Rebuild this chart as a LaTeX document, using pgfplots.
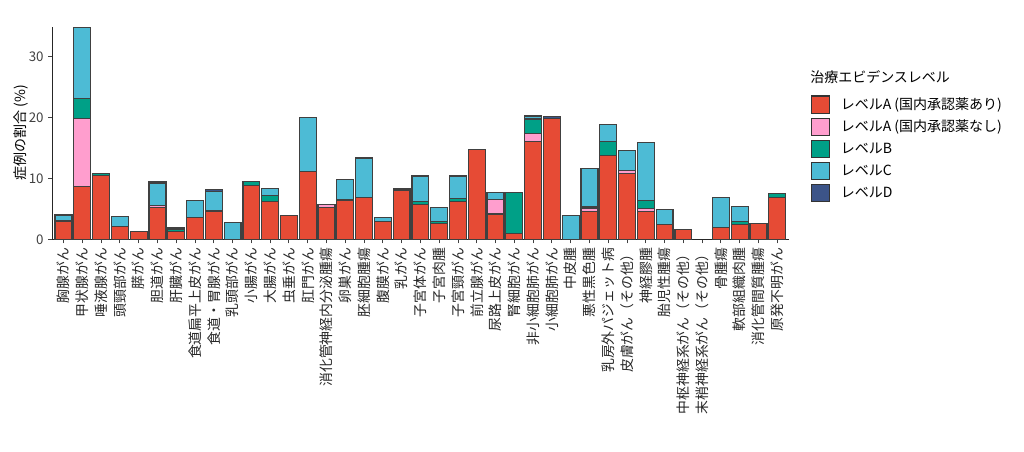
\documentclass[border=0pt]{standalone}
\usepackage{fontspec}
\setmainfont{Noto Sans CJK JP}
\usepackage{pgfplots}
\usepackage{pgfplotstable}
\pgfplotsset{compat=1.18}
\definecolor{cA}{HTML}{E64B35}
\definecolor{cP}{HTML}{FF9ECE}
\definecolor{cB}{HTML}{00A087}
\definecolor{cC}{HTML}{4DBBD5}
\definecolor{cD}{HTML}{3C5488}
\pgfplotstableread{
x A P B C D
1 3.0 0 0 1.0 0
2 8.65 11.15 3.3 11.6 0
3 10.45 0 0.35 0 0
4 2.1 0 0 1.6 0
5 1.35 0 0 0 0
6 5.2 0.4 0 3.5 0.3
7 1.35 0 0.35 0 0.15
8 3.6 0 0 2.75 0
9 4.65 0 0 3.2 0.3
10 0 0 0 2.8 0
11 8.8 0 0.75 0 0
12 6.2 0 1.05 1.1 0
13 3.85 0 0 0 0
14 11.1 0 0 8.9 0
15 5.25 0.45 0 0 0
16 6.35 0 0.2 3.3 0
17 6.9 0 0 6.45 0
18 2.95 0 0 0.65 0
19 8.0 0 0 0 0.25
20 5.7 0 0.55 4.15 0
21 2.6 0 0.35 2.25 0
22 6.25 0 0.45 3.7 0
23 14.7 0 0 0 0
24 4.15 2.35 0 1.25 0
25 1.0 0 6.7 0 0
26 16.1 1.25 2.4 0.4 0.15
27 19.85 0 0 0 0.25
28 0 0 0 3.88 0
29 4.55 0.6 0.3 6.15 0
30 13.8 0 2.3 2.8 0
31 10.85 0.4 0 3.3 0
32 4.55 0.55 1.25 9.5 0
33 2.5 0 0 2.4 0
34 1.55 0 0 0 0
35 0 0 0 0 0
36 2.0 0 0 4.85 0
37 2.45 0 0.5 2.5 0
38 2.65 0 0 0 0
39 6.9 0 0.65 0 0
}\datatable
\begin{document}
\begin{tikzpicture}
\path[use as bounding box] (-39.2pt,-158.8pt) rectangle (728.8pt,179.5pt);
\begin{axis}[
  at={(0pt,0pt)}, anchor=south west,
  scale only axis,
  width=552.2pt, height=159.5pt,
  ybar stacked, bar width=0.9,
  xmin=0.4, xmax=39.6, ymin=0, ymax=34.9,
  axis lines=left,
  axis line style={line width=0.8pt, black!85, -},
  xtick=data,
  xticklabels={胸腺がん,甲状腺がん,唾液腺がん,頭頸部がん,膵がん,胆道がん,肝臓がん,食道扁平上皮がん,食道・胃腺がん,乳頭部がん,小腸がん,大腸がん,虫垂がん,肛門がん,消化管神経内分泌腫瘍,卵巣がん,胚細胞腫瘍,腹膜がん,乳がん,子宮体がん,子宮肉腫,子宮頸がん,前立腺がん,尿路上皮がん,腎細胞がん,非小細胞肺がん,小細胞肺がん,中皮腫,悪性黒色腫,乳房外パジェット病,皮膚がん（その他）,神経膠腫,胎児性腫瘍,中枢神経系がん（その他）,末梢神経系がん（その他）,骨腫瘍,軟部組織肉腫,消化管間質腫瘍,原発不明がん},
  xticklabel style={rotate=90, anchor=east, font=\fontsize{10.4}{12}\selectfont, text=black!85},
  ytick={0,10,20,30},
  yticklabel style={font=\fontsize{10}{12}\selectfont, text=black!75},
  /pgf/number format/assume math mode=true,
  tick align=outside,
  major tick length=3pt,
  tick style={line width=0.7pt, black!75},
  ylabel={症例の割合 (\%)},
  every axis y label/.style={at={(axis description cs:-0.0425,0.5)}, rotate=90, anchor=center, font=\fontsize{10.5}{12}\selectfont},
  legend style={at={(1.0304,0.678)}, anchor=north west, draw=none, fill=none,
    inner sep=0pt, row sep=2.7pt, cells={anchor=west},
    nodes={inner sep=0pt}, font=\fontsize{10.5}{12}\selectfont},
  legend cell align=left,
  legend image code/.code={\draw[#1, line width=0.9pt, draw=black!80] (0pt,-6.5pt) rectangle (13pt,6.5pt); \path[draw=none,fill=none] (0pt,0pt) -- (21.75pt,0pt);},
  every axis plot/.append style={draw=black!75, line width=0.9pt},
]
\addplot[fill=cA] table[x=x,y=A] {\datatable};
\addplot[fill=cP] table[x=x,y=P] {\datatable};
\addplot[fill=cB] table[x=x,y=B] {\datatable};
\addplot[fill=cC] table[x=x,y=C] {\datatable};
\addplot[fill=cD] table[x=x,y=D] {\datatable};
\legend{レベルA (国内承認薬あり),レベルA (国内承認薬なし),レベルB,レベルC,レベルD}
\end{axis}
\node[anchor=west, inner sep=0pt, font=\fontsize{10.5}{12}\selectfont] at (568.3pt,121.7pt) {治療エビデンスレベル};
\end{tikzpicture}
\end{document}
